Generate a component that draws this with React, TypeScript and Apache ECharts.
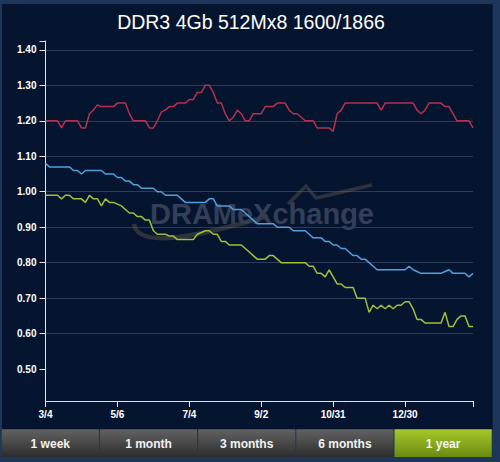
import React, { useEffect, useRef } from "react";
import * as echarts from "echarts";

const title = "DDR3 4Gb 512Mx8 1600/1866";
const tickLabels = ["3/4", "5/6", "7/4", "9/2", "10/31", "12/30"];
const yTicks = [0.5, 0.6, 0.7, 0.8, 0.9, 1.0, 1.1, 1.2, 1.3, 1.4];
const buttons = ["1 week", "1 month", "3 months", "6 months", "1 year"];
const activeButton = 4;

const red = [
  1.2, 1.2, 1.2, 1.2, 1.18, 1.2, 1.2, 1.2, 1.2, 1.18,
  1.18, 1.22, 1.23, 1.245, 1.24, 1.24, 1.24, 1.24, 1.25, 1.25,
  1.25, 1.22, 1.2, 1.2, 1.2, 1.2, 1.18, 1.18, 1.2, 1.225,
  1.23, 1.24, 1.24, 1.25, 1.25, 1.25, 1.26, 1.26, 1.28, 1.28,
  1.3, 1.3, 1.28, 1.25, 1.25, 1.22, 1.2, 1.21, 1.23, 1.22,
  1.2, 1.2, 1.22, 1.22, 1.22, 1.24, 1.24, 1.24, 1.25, 1.25,
  1.25, 1.23, 1.22, 1.22, 1.21, 1.2, 1.2, 1.2, 1.18, 1.18,
  1.18, 1.18, 1.17, 1.22, 1.23, 1.25, 1.25, 1.25, 1.25, 1.25,
  1.25, 1.25, 1.25, 1.25, 1.23, 1.25, 1.25, 1.25, 1.25, 1.25,
  1.25, 1.25, 1.25, 1.23, 1.22, 1.23, 1.25, 1.25, 1.25, 1.25,
  1.24, 1.24, 1.22, 1.2, 1.2, 1.2, 1.2, 1.18,
];

const blue = [
  1.08, 1.07, 1.07, 1.07, 1.07, 1.07, 1.07, 1.06, 1.06, 1.05,
  1.06, 1.06, 1.06, 1.06, 1.06, 1.05, 1.05, 1.05, 1.04, 1.04,
  1.03, 1.03, 1.02, 1.02, 1.01, 1.01, 1.01, 1.01, 1.0, 1.0,
  0.99, 0.99, 0.99, 0.99, 0.98, 0.97, 0.97, 0.97, 0.97, 0.97,
  0.97, 0.98, 0.98, 0.96, 0.96, 0.96, 0.96, 0.95, 0.95, 0.95,
  0.94, 0.93, 0.92, 0.91, 0.91, 0.91, 0.91, 0.91, 0.9, 0.9,
  0.9, 0.9, 0.89, 0.89, 0.89, 0.89, 0.88, 0.87, 0.87, 0.87,
  0.86, 0.86, 0.85, 0.85, 0.84, 0.84, 0.83, 0.82, 0.82, 0.81,
  0.81, 0.8, 0.79, 0.78, 0.78, 0.78, 0.78, 0.78, 0.78, 0.78,
  0.78, 0.79, 0.78, 0.775, 0.77, 0.77, 0.77, 0.77, 0.77, 0.77,
  0.775, 0.78, 0.77, 0.77, 0.77, 0.77, 0.76, 0.77,
];

const green = [
  0.99, 0.99, 0.99, 0.99, 0.98, 0.99, 0.99, 0.98, 0.98, 0.98,
  0.97, 0.99, 0.98, 0.98, 0.96, 0.98, 0.97, 0.97, 0.965, 0.96,
  0.95, 0.94, 0.94, 0.93, 0.93, 0.92, 0.92, 0.89, 0.88, 0.88,
  0.88, 0.875, 0.875, 0.865, 0.865, 0.865, 0.865, 0.865, 0.88, 0.885,
  0.89, 0.89, 0.88, 0.88, 0.86, 0.86, 0.85, 0.85, 0.85, 0.85,
  0.84, 0.83, 0.82, 0.81, 0.81, 0.81, 0.82, 0.82, 0.81, 0.8,
  0.8, 0.8, 0.8, 0.8, 0.8, 0.8, 0.79, 0.79, 0.77, 0.77,
  0.76, 0.78, 0.76, 0.74, 0.74, 0.73, 0.73, 0.73, 0.7, 0.7,
  0.7, 0.66, 0.68, 0.67, 0.68, 0.67, 0.68, 0.67, 0.68, 0.68,
  0.69, 0.69, 0.67, 0.64, 0.64, 0.63, 0.63, 0.63, 0.63, 0.63,
  0.66, 0.62, 0.62, 0.64, 0.65, 0.65, 0.62, 0.62,
];

const LABEL_STEP = 18;

export default function App() {
  const ref = useRef<HTMLDivElement>(null);

  useEffect(() => {
    if (!ref.current) return;
    const chart = echarts.init(ref.current, null, { renderer: "svg" });
    const lastIndex = red.length - 1;
    const xLabelValues = tickLabels.map((_, i) => i * LABEL_STEP);
    const toPairs = (arr: number[]) => arr.map((v, i) => [i, v]);
    const yMin = 0.41;
    const yMax = 1.425;

    const btnW = 98.2;
    const btnX0 = 1.7;
    const btnY = 429.3;
    const btnH = 27.7;

    const buttonGraphics: any[] = [];
    buttons.forEach((b, i) => {
      const active = i === activeButton;
      buttonGraphics.push({
        type: "rect",
        z: 5,
        shape: { x: btnX0 + i * btnW, y: btnY, width: btnW - 1, height: btnH },
        style: {
          fill: new echarts.graphic.LinearGradient(0, 0, 0, 1, active
            ? [
                { offset: 0, color: "#a6c92a" },
                { offset: 1, color: "#6a8a10" },
              ]
            : [
                { offset: 0, color: "#626262" },
                { offset: 0.5, color: "#484848" },
                { offset: 1, color: "#2c2c2c" },
              ]),
        },
      });
      buttonGraphics.push({
        type: "text",
        z: 6,
        x: btnX0 + i * btnW + (btnW - 1) / 2,
        y: btnY + btnH / 2 + 0.5,
        style: {
          text: b,
          fill: "#f2f2f2",
          font: "bold 12px 'Liberation Sans', Arial, sans-serif",
          align: "center",
          verticalAlign: "middle",
        },
      });
    });

    chart.setOption({
      animation: false,
      backgroundColor: "#1d3659",
      title: {
        text: title,
        left: 246,
        top: 7,
        textAlign: "center",
        textStyle: {
          color: "#ffffff",
          fontSize: 19.5,
          fontWeight: "normal",
          fontFamily: "'Liberation Sans', Arial, sans-serif",
        },
      },
      grid: { left: 45.5, right: 27, top: 41, bottom: 61, containLabel: false },
      xAxis: {
        type: "value",
        min: 0,
        max: lastIndex,
        axisLine: { show: true, onZero: false, lineStyle: { color: "#e6e6e6", width: 1 } },
        axisTick: {
          show: true,
          length: 6,
          customValues: [...xLabelValues, lastIndex],
          lineStyle: { color: "#e6e6e6" },
        },
        axisLabel: {
          customValues: xLabelValues,
          color: "#ffffff",
          fontSize: 10,
          fontWeight: "bold",
          fontFamily: "'Liberation Sans', Arial, sans-serif",
          margin: 8,
          formatter: (v: number) => tickLabels[Math.round(v / LABEL_STEP)] ?? "",
        },
        splitLine: { show: false },
      },
      yAxis: {
        type: "value",
        min: yMin,
        max: yMax,
        axisLine: { show: true, lineStyle: { color: "#e6e6e6", width: 1 } },
        axisTick: {
          show: true,
          length: 6,
          customValues: [...yTicks, yMax],
          lineStyle: { color: "#e6e6e6" },
        },
        axisLabel: {
          customValues: yTicks,
          color: "#ffffff",
          fontSize: 10,
          fontWeight: "bold",
          fontFamily: "'Liberation Sans', Arial, sans-serif",
          margin: 9,
          formatter: (v: number) => v.toFixed(2),
        },
        splitLine: {
          show: true,
          showMinLine: false,
          showMaxLine: false,
          lineStyle: { color: "#2c3d5b", width: 1 },
        },
      },
      graphic: [
        {
          type: "rect",
          z: -10,
          silent: true,
          shape: { x: 2, y: 4, width: 490.7, height: 426 },
          style: { fill: "#06152f" },
        },
        {
          type: "bezierCurve",
          z: 1,
          silent: true,
          shape: { x1: 134, y1: 224, cpx1: 138, cpy1: 250, cpx2: 200, cpy2: 236, x2: 268, y2: 216 },
          style: { stroke: "rgba(110,98,80,0.38)", lineWidth: 4.5, fill: null },
        },
        {
          type: "polyline",
          z: 1,
          silent: true,
          shape: { points: [[288, 204], [306, 186], [316, 198], [372, 185]] },
          style: { stroke: "rgba(110,98,80,0.38)", lineWidth: 3.5, fill: null },
        },
        {
          type: "text",
          z: 1,
          silent: true,
          x: 262,
          y: 214,
          style: {
            text: "DRAMeXchange",
            fill: "#333f59",
            font: "bold 29px 'Liberation Sans', Arial, sans-serif",
            align: "center",
            verticalAlign: "middle",
          },
        },
        ...buttonGraphics,
      ],
      series: [
        {
          type: "line",
          name: "red",
          data: toPairs(red),
          symbol: "none",
          z: 3,
          lineStyle: { color: "#b8304c", width: 1.5 },
        },
        {
          type: "line",
          name: "blue",
          data: toPairs(blue),
          symbol: "none",
          z: 3,
          lineStyle: { color: "#529fdb", width: 1.5 },
        },
        {
          type: "line",
          name: "green",
          data: toPairs(green),
          symbol: "none",
          z: 3,
          lineStyle: { color: "#a0bf3a", width: 1.5 },
        },
      ],
    });

    return () => chart.dispose();
  }, []);

  return (
    <div
      ref={ref}
      style={{ position: "fixed", left: 0, top: 0, width: 500, height: 462 }}
    />
  );
}
